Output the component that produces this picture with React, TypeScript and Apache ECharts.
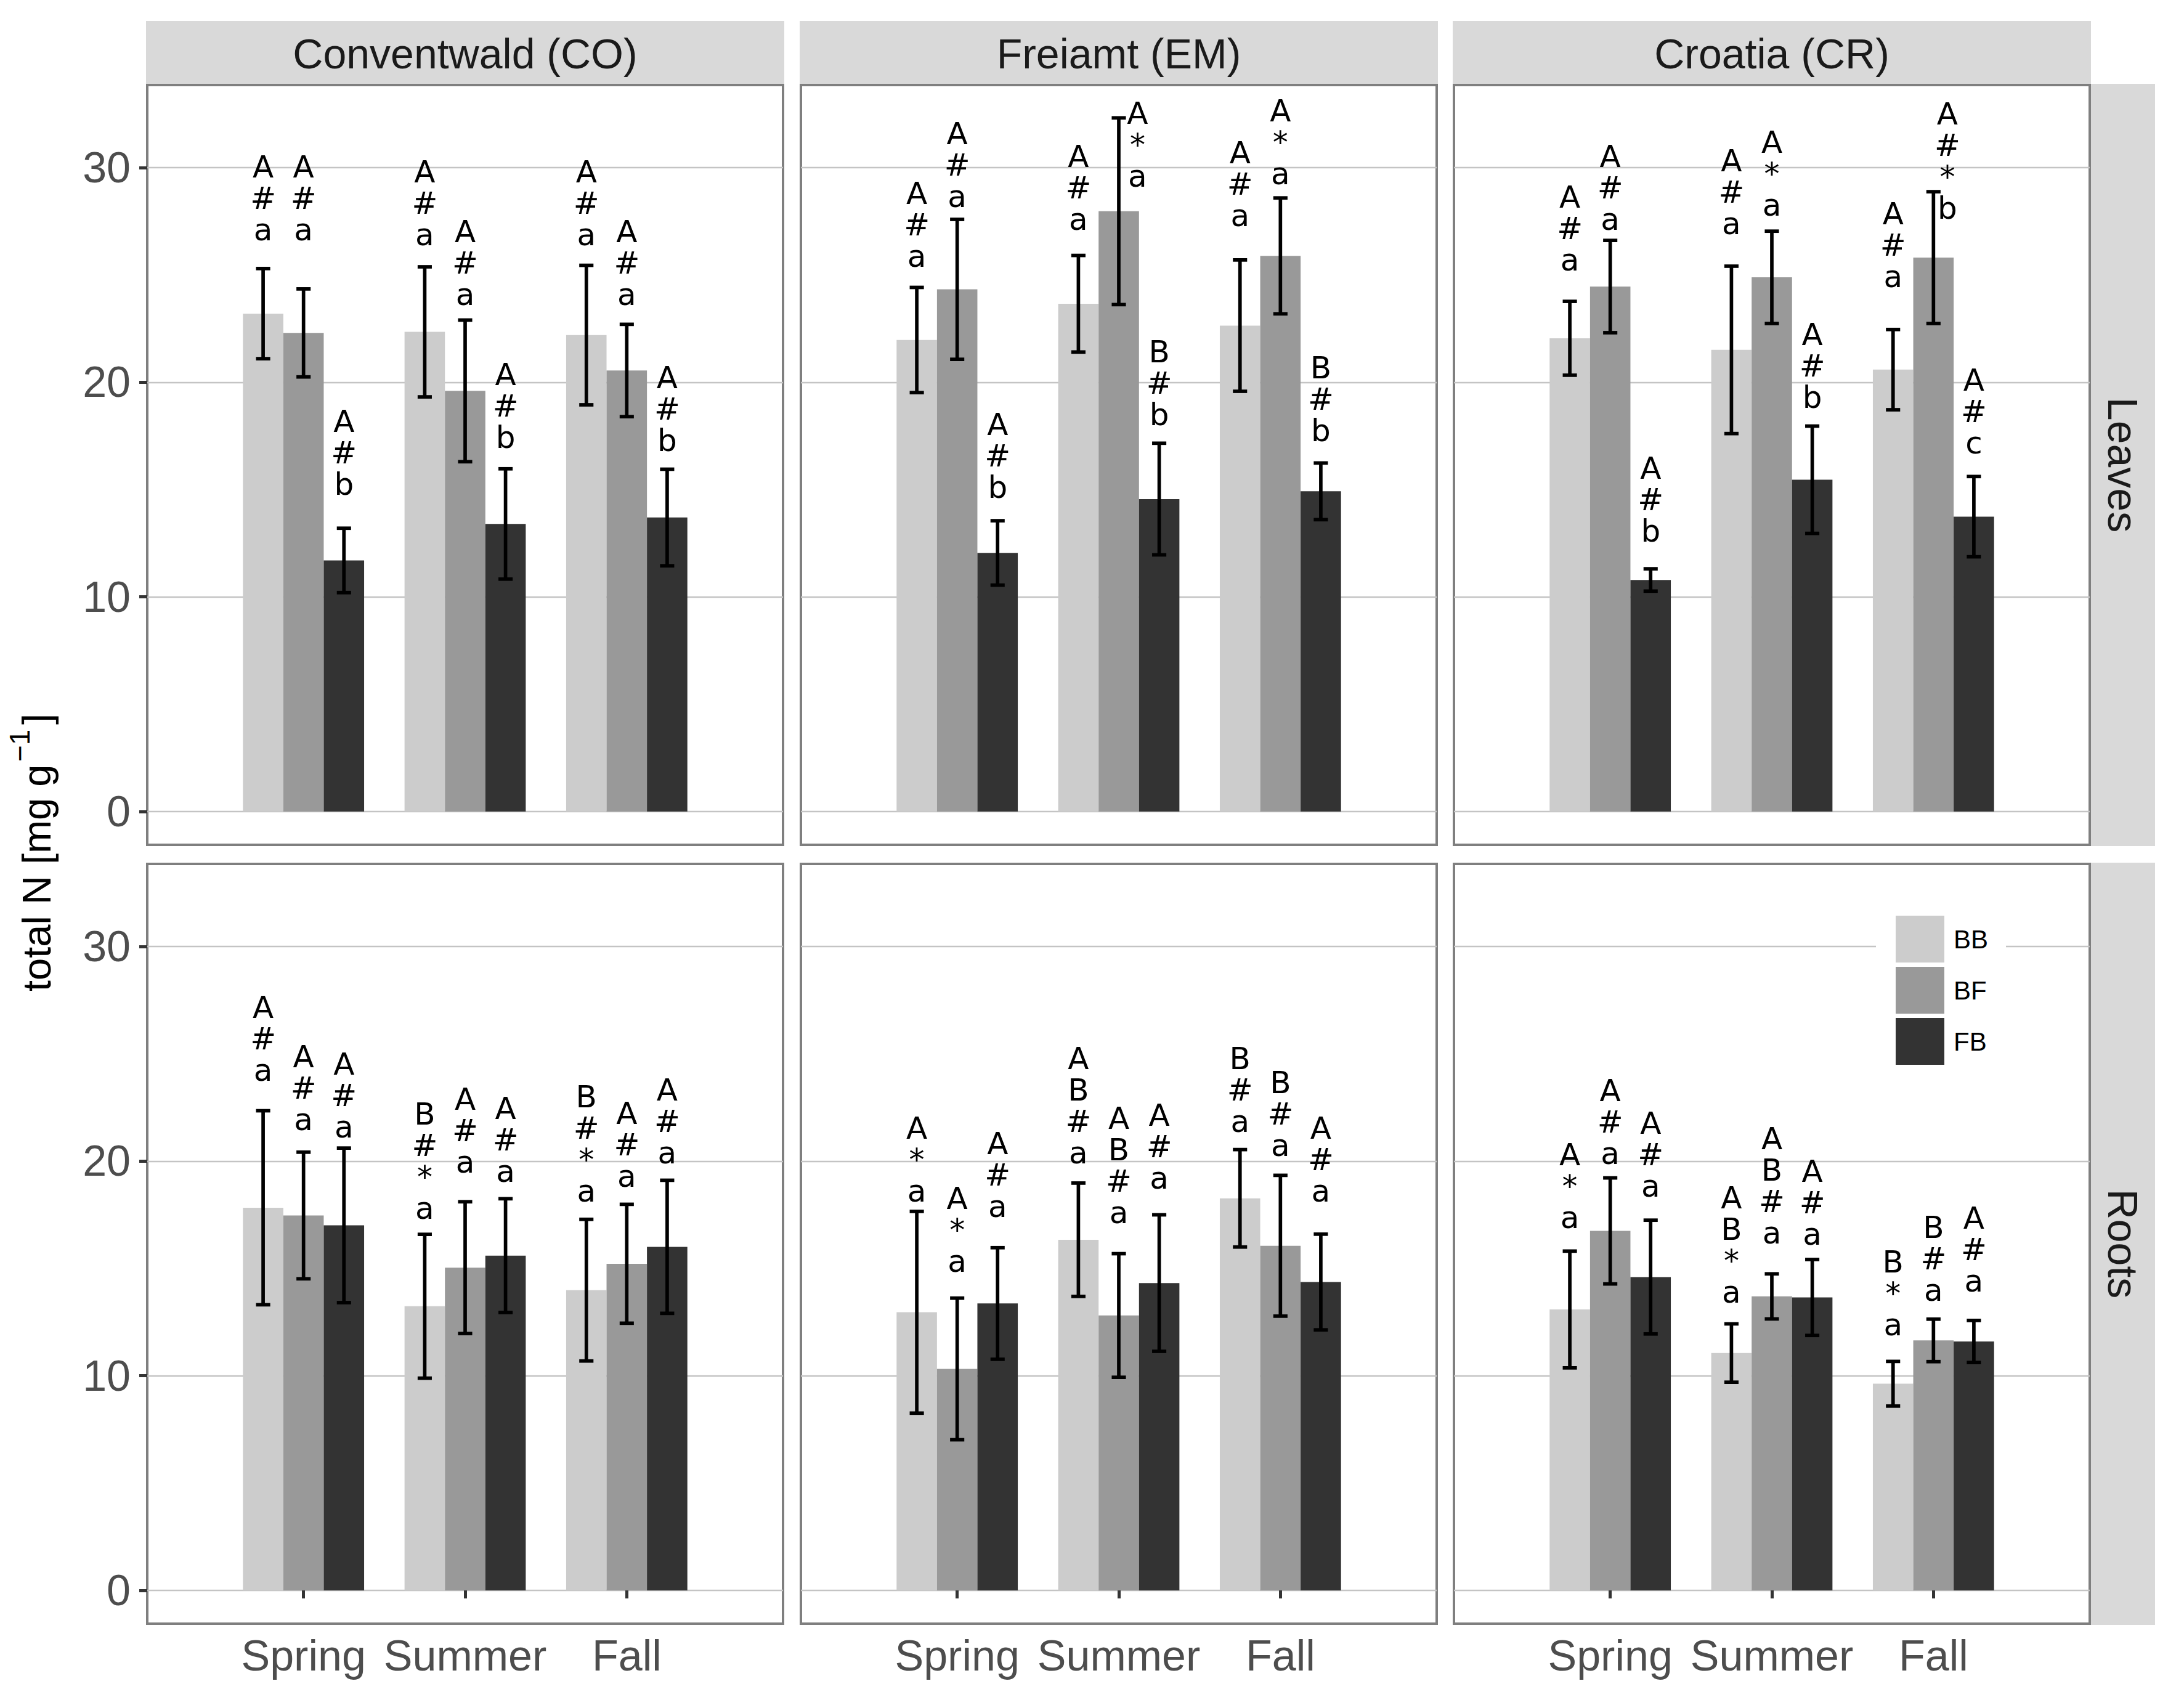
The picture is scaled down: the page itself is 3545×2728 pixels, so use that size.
import React, { useEffect, useRef } from 'react';
import * as echarts from 'echarts';

// ---------- data ----------
const sites = ['Conventwald (CO)', 'Freiamt (EM)', 'Croatia (CR)'];
const tissues = ['Leaves', 'Roots'];
const seasons = ['Spring', 'Summer', 'Fall'];
const treatments = ['BB', 'BF', 'FB'];
const treatmentColors = ['#cccccc', '#999999', '#333333'];
const yTickValues = [0, 10, 20, 30];
const xTickValues = [1, 2, 3];

// order in each array: Spring BB, BF, FB | Summer BB, BF, FB | Fall BB, BF, FB
const coLeavesMean = [23.2, 22.3, 11.7, 22.35, 19.6, 13.4, 22.2, 20.55, 13.7];
const coLeavesErr = [2.1, 2.05, 1.5, 3.03, 3.3, 2.57, 3.25, 2.15, 2.25];
const coLeavesSig = ['A#a', 'A#a', 'A#b', 'A#a', 'A#a', 'A#b', 'A#a', 'A#a', 'A#b'];
const coLeavesLabelY = [26.61, 26.61, 14.74, 26.38, 23.59, 16.92, 26.38, 23.59, 16.79];

const emLeavesMean = [21.97, 24.33, 12.05, 23.66, 27.97, 14.56, 22.64, 25.89, 14.92];
const emLeavesErr = [2.45, 3.26, 1.5, 2.25, 4.35, 2.6, 3.06, 2.7, 1.32];
const emLeavesSig = ['A#a', 'A#a', 'A#b', 'A#a', 'A*a', 'B#b', 'A#a', 'A*a', 'B#b'];
const emLeavesLabelY = [25.38, 28.15, 14.61, 27.1, 29.1, 18.0, 27.25, 29.22, 17.23];

const crLeavesMean = [22.05, 24.46, 10.79, 21.51, 24.89, 15.46, 20.59, 25.81, 13.74];
const crLeavesErr = [1.72, 2.15, 0.52, 3.9, 2.15, 2.5, 1.87, 3.07, 1.87];
const crLeavesSig = ['A#a', 'A#a', 'A#b', 'A#a', 'A*a', 'A#b', 'A#a', 'A#*b', 'A#c'];
const crLeavesLabelY = [25.2, 27.1, 12.56, 26.9, 27.76, 18.8, 24.43, 27.6, 16.66];

const coRootsMean = [17.83, 17.47, 17.01, 13.24, 15.04, 15.6, 13.99, 15.22, 16.01];
const coRootsErr = [4.52, 2.95, 3.6, 3.35, 3.07, 2.65, 3.3, 2.77, 3.1];
const coRootsSig = ['A#a', 'A#a', 'A#a', 'B#*a', 'A#a', 'A#a', 'B#*a', 'A#a', 'A#a'];
const coRootsLabelY = [23.72, 21.44, 21.08, 17.29, 19.44, 19.03, 18.11, 18.8, 19.88];

const emRootsMean = [12.96, 10.32, 13.37, 16.34, 12.81, 14.32, 18.27, 16.06, 14.37];
const emRootsErr = [4.7, 3.3, 2.6, 2.64, 2.88, 3.18, 2.27, 3.28, 2.23];
const emRootsSig = ['A*a', 'A*a', 'A#a', 'AB#a', 'AB#a', 'A#a', 'B#a', 'B#a', 'A#a'];
const emRootsLabelY = [18.09, 14.83, 17.39, 19.88, 17.11, 18.7, 21.34, 20.24, 18.09];

const crRootsMean = [13.09, 16.75, 14.6, 11.06, 13.7, 13.65, 9.63, 11.65, 11.6];
const crRootsErr = [2.72, 2.47, 2.65, 1.36, 1.05, 1.77, 1.04, 0.99, 0.98];
const crRootsSig = ['A*a', 'A#a', 'A#a', 'AB*a', 'AB#a', 'A#a', 'B*a', 'B#a', 'A#a'];
const crRootsLabelY = [16.86, 19.85, 18.34, 13.4, 16.14, 16.09, 11.86, 13.47, 13.91];

// labels shifted sideways in the original (x offset in category units)
const labelNudges = [
  { panel: 1, index: 4, dx: 0.116 },
  { panel: 2, index: 7, dx: 0.086 },
];

// ---------- layout ----------
const PANEL_LEFT = [239, 1300, 2360];
const PANEL_TOP = [138, 1402];
const PANEL_W = 1032;
const PANEL_H = 1233;
const Y_MIN = -1.55;
const Y_MAX = 33.85;
const X_MIN = 0.033;
const X_MAX = 3.967;
const BAR_W = 0.25;
const CAP_W = 0.088;
const SANS = '"Liberation Sans", Arial, Helvetica, sans-serif';
const LETTER = '"DejaVu Sans", sans-serif';

const panels = [
  { row: 0, col: 0, mean: coLeavesMean, err: coLeavesErr, sig: coLeavesSig, labelY: coLeavesLabelY },
  { row: 0, col: 1, mean: emLeavesMean, err: emLeavesErr, sig: emLeavesSig, labelY: emLeavesLabelY },
  { row: 0, col: 2, mean: crLeavesMean, err: crLeavesErr, sig: crLeavesSig, labelY: crLeavesLabelY },
  { row: 1, col: 0, mean: coRootsMean, err: coRootsErr, sig: coRootsSig, labelY: coRootsLabelY },
  { row: 1, col: 1, mean: emRootsMean, err: emRootsErr, sig: emRootsSig, labelY: emRootsLabelY },
  { row: 1, col: 2, mean: crRootsMean, err: crRootsErr, sig: crRootsSig, labelY: crRootsLabelY },
];

function barRenderer(color: string) {
  return (params: any, api: any) => {
    const x = api.value(0);
    const v = api.value(1);
    const p0 = api.coord([x - BAR_W / 2, v]);
    const p1 = api.coord([x + BAR_W / 2, 0]);
    return {
      type: 'rect',
      shape: { x: p0[0], y: p0[1], width: p1[0] - p0[0], height: p1[1] - p0[1] },
      style: { fill: color },
    };
  };
}

function errRenderer(sig: string[]) {
  return (params: any, api: any) => {
    const i = params.dataIndex;
    const x = api.value(0);
    const m = api.value(1);
    const e = api.value(2);
    const ly = api.value(3);
    const dx = api.value(4);
    const top = api.coord([x, m + e]);
    const bot = api.coord([x, m - e]);
    const capL = api.coord([x - CAP_W / 2, m])[0];
    const capR = api.coord([x + CAP_W / 2, m])[0];
    const lp = api.coord([x + dx, ly]);
    const lineStyle = { stroke: '#000', lineWidth: 5.7 };
    return {
      type: 'group',
      children: [
        { type: 'line', shape: { x1: top[0], y1: top[1], x2: bot[0], y2: bot[1] }, style: lineStyle },
        { type: 'line', shape: { x1: capL, y1: top[1], x2: capR, y2: top[1] }, style: lineStyle },
        { type: 'line', shape: { x1: capL, y1: bot[1], x2: capR, y2: bot[1] }, style: lineStyle },
        {
          type: 'text',
          x: lp[0],
          y: lp[1] + 8,
          style: {
            text: sig[i].split('').join('\n'),
            fill: '#000',
            fontSize: 50,
            lineHeight: 51,
            fontFamily: LETTER,
            align: 'center',
            verticalAlign: 'bottom',
          },
        },
      ],
    };
  };
}

function buildOption() {
  const grid: any[] = [];
  const xAxis: any[] = [];
  const yAxis: any[] = [];
  const series: any[] = [];

  panels.forEach((p, k) => {
    grid.push({
      left: PANEL_LEFT[p.col],
      top: PANEL_TOP[p.row],
      width: PANEL_W,
      height: PANEL_H,
      show: true,
      borderColor: '#7f7f7f',
      borderWidth: 4,
      backgroundColor: 'transparent',
    });
    xAxis.push({
      gridIndex: k,
      type: 'value',
      min: X_MIN,
      max: X_MAX,
      axisLine: { show: false },
      splitLine: { show: false },
      axisTick: {
        show: p.row === 1,
        customValues: xTickValues,
        length: 13,
        lineStyle: { color: '#333333', width: 5 },
      },
      axisLabel: {
        show: p.row === 1,
        customValues: xTickValues,
        formatter: (v: number) => seasons[Math.round(v) - 1] ?? '',
        fontSize: 70,
        color: '#4d4d4d',
        fontFamily: SANS,
        margin: 17,
      },
    });
    yAxis.push({
      gridIndex: k,
      type: 'value',
      min: Y_MIN,
      max: Y_MAX,
      axisLine: { show: false },
      axisTick: {
        show: p.col === 0,
        customValues: yTickValues,
        length: 13,
        lineStyle: { color: '#333333', width: 5 },
      },
      axisLabel: {
        show: p.col === 0,
        customValues: yTickValues,
        fontSize: 70,
        color: '#4d4d4d',
        fontFamily: SANS,
        margin: 27,
      },
      splitLine: { show: true, lineStyle: { color: '#c4c4c4', width: 2.3 } },
    });

    treatments.forEach((tName, t) => {
      series.push({
        type: 'custom',
        name: tName,
        xAxisIndex: k,
        yAxisIndex: k,
        itemStyle: { color: treatmentColors[t] },
        encode: { x: 0, y: 1 },
        data: seasons.map((_, s) => [s + 1 + (t - 1) * BAR_W, p.mean[s * 3 + t]]),
        renderItem: barRenderer(treatmentColors[t]),
        silent: true,
        z: 2,
      });
    });

    series.push({
      type: 'custom',
      name: 'errors-' + k,
      xAxisIndex: k,
      yAxisIndex: k,
      encode: { x: 0, y: 1 },
      data: p.mean.map((m, i) => {
        const nudge = labelNudges.find((n) => n.panel === k && n.index === i);
        return [Math.floor(i / 3) + 1 + ((i % 3) - 1) * BAR_W, m, p.err[i], p.labelY[i], nudge ? nudge.dx : 0];
      }),
      renderItem: errRenderer(p.sig),
      silent: true,
      z: 3,
    });
  });

  const graphic: any[] = [];
  sites.forEach((name, c) => {
    graphic.push({
      type: 'rect',
      shape: { x: PANEL_LEFT[c] - 2, y: 34, width: PANEL_W + 4, height: 102 },
      style: { fill: '#d9d9d9' },
      silent: true,
    });
    graphic.push({
      type: 'text',
      x: PANEL_LEFT[c] + PANEL_W / 2,
      y: 87,
      style: {
        text: name,
        fill: '#1a1a1a',
        fontSize: 68,
        fontFamily: SANS,
        align: 'center',
        verticalAlign: 'middle',
      },
      silent: true,
    });
  });
  tissues.forEach((name, r) => {
    const stripX = PANEL_LEFT[2] + PANEL_W + 2;
    graphic.push({
      type: 'rect',
      shape: { x: stripX, y: PANEL_TOP[r] - 2, width: 104, height: PANEL_H + 4 },
      style: { fill: '#d9d9d9' },
      silent: true,
    });
    graphic.push({
      type: 'text',
      x: stripX + 52,
      y: PANEL_TOP[r] + PANEL_H / 2,
      rotation: -Math.PI / 2,
      style: {
        text: name,
        fill: '#1a1a1a',
        fontSize: 68,
        fontFamily: SANS,
        align: 'center',
        verticalAlign: 'middle',
      },
      silent: true,
    });
  });
  // y axis title: total N [mg g^-1]
  graphic.push({
    type: 'group',
    x: 59,
    y: 1387,
    rotation: Math.PI / 2,
    silent: true,
    children: [
      {
        type: 'text',
        x: -222,
        y: 0,
        style: { text: 'total N [mg g', fill: '#000', fontSize: 65, fontFamily: SANS, align: 'left', verticalAlign: 'middle' },
      },
      {
        type: 'text',
        x: 151,
        y: -27,
        style: { text: '\u22121', fill: '#000', fontSize: 46, fontFamily: SANS, align: 'left', verticalAlign: 'middle' },
      },
      {
        type: 'text',
        x: 211,
        y: 0,
        style: { text: ']', fill: '#000', fontSize: 65, fontFamily: SANS, align: 'left', verticalAlign: 'middle' },
      },
    ],
  });

  return {
    animation: false,
    backgroundColor: '#ffffff',
    grid,
    xAxis,
    yAxis,
    series,
    graphic,
    legend: {
      show: true,
      orient: 'vertical',
      left: 3045,
      top: 1454,
      padding: [32, 29, 32, 32],
      backgroundColor: '#ffffff',
      itemWidth: 79,
      itemHeight: 76,
      itemGap: 7,
      selectedMode: false,
      data: treatments.map((t) => ({ name: t, icon: 'rect' })),
      textStyle: { fontSize: 42, fontFamily: SANS, color: '#000', padding: [0, 0, 0, 10] },
      z: 10,
    },
  };
}

export default function App() {
  const ref = useRef<HTMLDivElement>(null);
  useEffect(() => {
    if (!ref.current) return;
    const chart = echarts.init(ref.current, null, { renderer: 'svg' });
    chart.setOption(buildOption() as any);
    return () => chart.dispose();
  }, []);
  return (
    <div
      ref={ref}
      style={{ position: 'absolute', left: 0, top: 0, width: 3545, height: 2728, background: '#ffffff' }}
    />
  );
}
